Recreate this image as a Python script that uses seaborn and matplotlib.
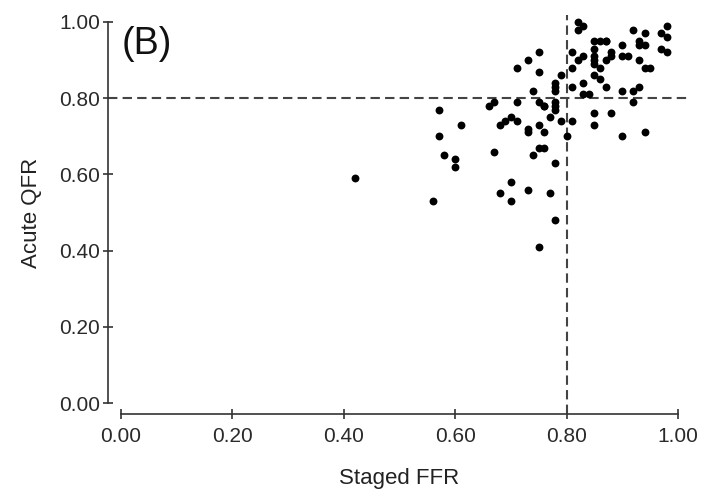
import numpy as np
import pandas as pd
import seaborn as sns
import matplotlib
matplotlib.use("Agg")
import matplotlib.pyplot as plt

# %% values (staged FFR vs acute QFR)
staged_ffr = [0.82, 0.83, 0.82, 0.98, 0.92, 0.94, 0.97, 0.98, 0.85, 0.86,
              0.87, 0.87, 0.93, 0.93, 0.94, 0.90, 0.85, 0.88, 0.88, 0.87,
              0.81, 0.83, 0.82, 0.75, 0.73, 0.71, 0.75, 0.85, 0.85, 0.85,
              0.86, 0.81, 0.90, 0.91, 0.93, 0.94, 0.95, 0.97, 0.98, 0.79,
              0.78, 0.78, 0.78, 0.85, 0.86, 0.87, 0.83, 0.81, 0.74, 0.83,
              0.84, 0.90, 0.92, 0.93, 0.92, 0.71, 0.66, 0.67, 0.57, 0.75,
              0.76, 0.76, 0.78, 0.78, 0.78, 0.68, 0.69, 0.70, 0.71, 0.61,
              0.57, 0.73, 0.73, 0.75, 0.76, 0.77, 0.79, 0.81, 0.80, 0.85,
              0.85, 0.88, 0.90, 0.94, 0.67, 0.58, 0.60, 0.60, 0.74, 0.75,
              0.76, 0.78, 0.70, 0.68, 0.73, 0.77, 0.56, 0.70, 0.78, 0.75,
              0.42]
acute_qfr = [1.00, 0.99, 0.98, 0.99, 0.98, 0.97, 0.97, 0.96, 0.95, 0.95,
             0.95, 0.95, 0.95, 0.94, 0.94, 0.94, 0.93, 0.92, 0.91, 0.90,
             0.92, 0.91, 0.90, 0.92, 0.90, 0.88, 0.87, 0.91, 0.90, 0.89,
             0.88, 0.88, 0.91, 0.91, 0.90, 0.88, 0.88, 0.93, 0.92, 0.86,
             0.84, 0.83, 0.82, 0.86, 0.85, 0.83, 0.84, 0.83, 0.82, 0.81,
             0.81, 0.82, 0.82, 0.83, 0.79, 0.79, 0.78, 0.79, 0.77, 0.79,
             0.78, 0.78, 0.79, 0.78, 0.77, 0.73, 0.74, 0.75, 0.74, 0.73,
             0.70, 0.72, 0.71, 0.73, 0.71, 0.75, 0.74, 0.74, 0.70, 0.76,
             0.73, 0.76, 0.70, 0.71, 0.66, 0.65, 0.64, 0.62, 0.65, 0.67,
             0.67, 0.63, 0.58, 0.55, 0.56, 0.55, 0.53, 0.53, 0.48, 0.41,
             0.59]
cutoff = 0.80
tick_vals = [0.0, 0.2, 0.4, 0.6, 0.8, 1.0]

df = pd.DataFrame({"Staged FFR": staged_ffr, "Acute QFR": acute_qfr})

# %%
sns.set_style("ticks")
plt.rcParams['font.family'] = ['Liberation Sans', 'DejaVu Sans']

fig = plt.figure(figsize=(7.06, 4.91), dpi=100)
ax = fig.add_axes([0.1714, 0.1792, 0.789, 0.776])

# cut-off lines, drawn a little past the axes like the original
ax.plot([-0.023, 1.02], [cutoff, cutoff], color='#444444', lw=1.5,
        ls=(0, (4.5, 2.5)), clip_on=False, zorder=1)
ax.plot([cutoff, cutoff], [-0.029, 1.018], color='#444444', lw=1.5,
        ls=(0, (4.5, 2.5)), clip_on=False, zorder=1)

sns.scatterplot(data=df, x="Staged FFR", y="Acute QFR", ax=ax, color='black',
                s=32, linewidth=0, clip_on=False, zorder=3)

ax.set_xlim(0, 1)
ax.set_ylim(0, 1)
ax.set_xticks(tick_vals)
ax.set_yticks(tick_vals)
ax.set_xticklabels([f"{v:.2f}" for v in tick_vals])
ax.set_yticklabels([f"{v:.2f}" for v in tick_vals])
ax.tick_params(axis='both', direction='inout', length=7, width=1.2,
               color='#333333', labelsize=15, labelcolor='#2a2a2a')
ax.tick_params(axis='x', pad=6)
ax.tick_params(axis='y', pad=2)

sns.despine(ax=ax, offset={'left': 9.4, 'bottom': 7.9}, trim=True)
for side in ['left', 'bottom']:
    ax.spines[side].set_linewidth(1.2)
    ax.spines[side].set_color('#333333')

ax.set_xlabel("Staged FFR", fontsize=16, color='#222222')
ax.set_ylabel("Acute QFR", fontsize=16, color='#222222')
ax.xaxis.set_label_coords(0.5, -0.197)
ax.yaxis.set_label_coords(-0.160, 0.5)
ax.xaxis.label.set_va('center')
ax.yaxis.label.set_va('center')

ax.text(0.002, 0.942, "(B)", transform=ax.transAxes, fontsize=27,
        ha='left', va='center', color='#111111')

fig.savefig("out.png", dpi=100)
